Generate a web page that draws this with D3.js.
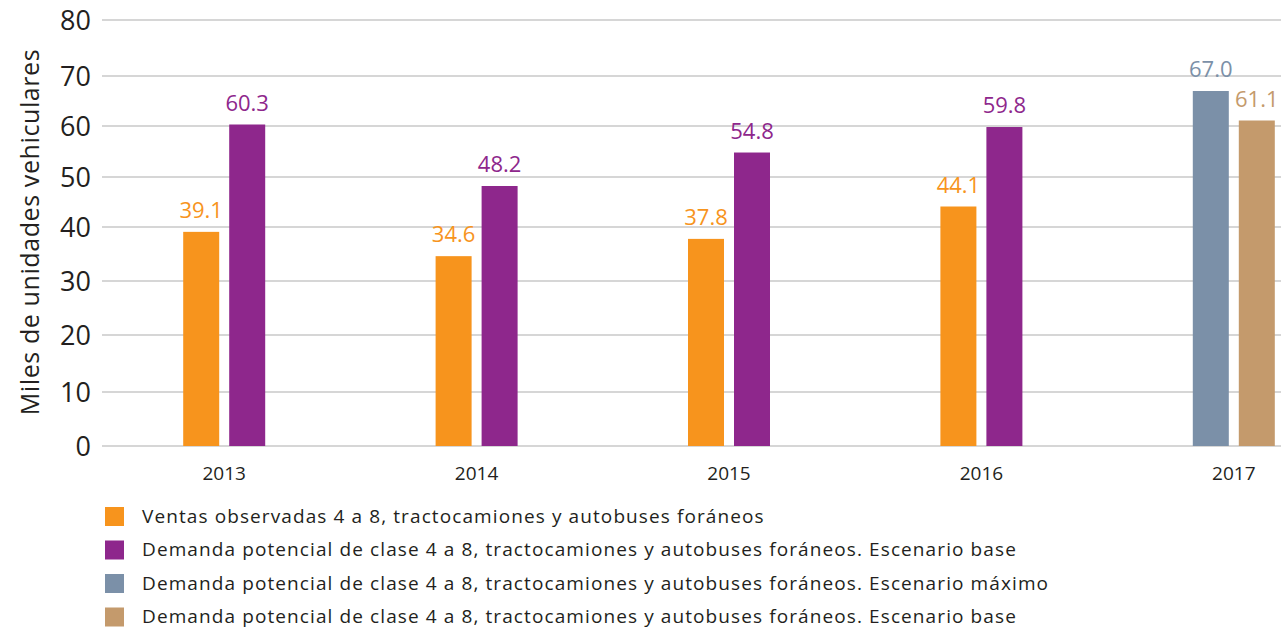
<!DOCTYPE html>
<html>
<head>
<meta charset="utf-8">
<script src="https://cdn.jsdelivr.net/npm/d3@7"></script>
<style>
body{margin:0;background:#fff;overflow:hidden}
svg{font-family:"Open Sans","Noto Sans",sans-serif}
</style>
</head>
<body>
<div id="chart"></div>
<script>
// data
var years=['2013','2014','2015','2016','2017']
var seriesNames=[
  'Ventas observadas 4 a 8, tractocamiones y autobuses foráneos',
  'Demanda potencial de clase 4 a 8, tractocamiones y autobuses foráneos. Escenario base',
  'Demanda potencial de clase 4 a 8, tractocamiones y autobuses foráneos. Escenario máximo',
  'Demanda potencial de clase 4 a 8, tractocamiones y autobuses foráneos. Escenario base'
]
var colors=['#f7941d','#8e278c','#7b90a8','#c49a6c']
var ventas=[39.1,34.6,37.8,44.1,null]
var demandaBase=[60.3,48.2,54.8,59.8,null]
var demandaMax=[null,null,null,null,67.0]
var demandaBase17=[null,null,null,null,61.1]
var yTicks=[0,10,20,30,40,50,60,70,80]

var svgW=1281, svgH=627
var svg=d3.select('#chart').append('svg')
    .attr('width',svgW)
    .attr('height',svgH)

var xscale=d3.scaleBand()
    .domain(years)
    .range([98,1360])
// the original axis is drawn a bit unevenly, follow its gridlines
var yscale=d3.scaleLinear()
    .domain(yTicks)
    .range([446,392,335,281,227,177,126,76,20])

// grid
svg.append('g').selectAll('line')
    .data(yTicks)
    .join('line')
    .attr('x1',102).attr('x2',svgW)
    .attr('y1',d=>yscale(d)).attr('y2',d=>yscale(d))
    .attr('stroke','#d6d6d6')
    .attr('stroke-width',2)

// y tick labels
svg.append('g').selectAll('text')
    .data(yTicks)
    .join('text')
    .attr('x',91)
    .attr('y',d=>yscale(d))
    .attr('dy','0.36em')
    .attr('text-anchor','end')
    .attr('font-size',27)
    .attr('fill','#231f20')
    .text(d=>d)

svg.append('text')
    .attr('transform','translate(39,232) rotate(-90)')
    .attr('text-anchor','middle')
    .attr('font-size',25)
    .attr('letter-spacing',0.6)
    .attr('fill','#231f20')
    .text('Miles de unidades vehiculares')

// x labels
svg.append('g').selectAll('text')
    .data(years)
    .join('text')
    .attr('x',d=>xscale(d)+xscale.bandwidth()/2)
    .attr('y',480)
    .attr('text-anchor','middle')
    .attr('font-size',19)
    .attr('fill','#231f20')
    .text(d=>d)

// bars
var allSeries=[ventas,demandaBase,demandaMax,demandaBase17]
var barW=36, gap=10
var bars=[]
allSeries.forEach(function(s,i){
    s.forEach(function(v,j){
        if(v==null) return
        // left bar is ventas or max, right bar is base
        var left=(i==0||i==2)
        var cx=xscale(years[j])+xscale.bandwidth()/2
        var x=left?cx-gap/2-barW:cx+gap/2
        bars.push({x:x,v:v,c:colors[i]})
    })
})
svg.append('g').selectAll('rect')
    .data(bars)
    .join('rect')
    .attr('x',d=>d.x)
    .attr('y',d=>yscale(d.v))
    .attr('width',barW)
    .attr('height',d=>yscale(0)-yscale(d.v))
    .attr('fill',d=>d.c)
svg.append('g').selectAll('text')
    .data(bars)
    .join('text')
    .attr('x',d=>d.x+barW/2)
    .attr('y',d=>yscale(d.v)-14)
    .attr('text-anchor','middle')
    .attr('font-size',22)
    .attr('fill',d=>d.c)
    .text(d=>d.v.toFixed(1))

// legend
var leg=svg.append('g').selectAll('g')
    .data(seriesNames)
    .join('g')
    .attr('transform',(d,i)=>`translate(105,${516+i*33.5})`)
leg.append('rect')
    .attr('x',0).attr('y',-9)
    .attr('width',19).attr('height',19)
    .attr('fill',(d,i)=>colors[i])
leg.append('text')
    .attr('x',37)
    .attr('dy','0.36em')
    .attr('font-size',19)
    .attr('letter-spacing',1.1)
    .attr('fill','#231f20')
    .text(d=>d)
</script>
</body>
</html>
